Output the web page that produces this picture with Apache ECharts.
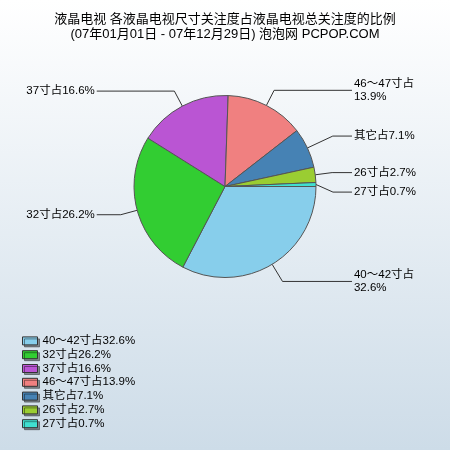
<!DOCTYPE html>
<html>
<head>
<meta charset="utf-8">
<script src="https://cdn.jsdelivr.net/npm/echarts@6/dist/echarts.min.js"></script>
<style>html,body{margin:0;padding:0;}#c{width:450px;height:450px;}</style>
</head>
<body>
<div id="c"></div>
<script>
const titleLines = ['液晶电视 各液晶电视尺寸关注度占液晶电视总关注度的比例', '(07年01月01日 - 07年12月29日) 泡泡网 PCPOP.COM'];
const categories = ['40～42寸', '32寸', '37寸', '46～47寸', '其它', '26寸', '27寸'];
const values = [32.6, 26.2, 16.6, 13.9, 7.1, 2.7, 0.7];
const colors = ['#87CEEB', '#32CD32', '#BA55D3', '#F08080', '#4682B4', '#9ACD32', '#40E0D0'];
const twoLineLabels = ['40～42寸', '46～47寸'];
const lineLen1 = [20, 17, 17, 17, 28, 17, 17];
const lineLen2 = [19, 24, 19, 19, 19, 19, 19];

const font = '"Liberation Sans", Arial, "Noto Sans CJK SC", sans-serif';
const chart = echarts.init(document.getElementById('c'));
const data = categories.map((c, i) => ({
  name: c, value: values[i],
  itemStyle: { color: colors[i] },
  labelLine: { length: lineLen1[i], length2: lineLen2[i] }
}));

chart.setOption({
  backgroundColor: {
    type: 'linear', x: 0, y: 0, x2: 0, y2: 1,
    colorStops: [{ offset: 0, color: '#ffffff' }, { offset: 1, color: '#cddce8' }]
  },
  color: colors,
  title: {
    text: titleLines.join('\n'),
    left: 'center',
    top: 12,
    padding: 0,
    textStyle: { fontSize: 13, fontWeight: 'normal', color: '#000', fontFamily: font, lineHeight: 15 }
  },
  legend: {
    orient: 'vertical',
    left: 22,
    top: 334,
    padding: 0,
    itemWidth: 15,
    itemHeight: 8,
    itemGap: 0,
    icon: 'rect',
    itemStyle: { borderColor: '#333', borderWidth: 1, shadowColor: 'rgba(0,0,0,0.4)', shadowOffsetX: 2, shadowOffsetY: 2, shadowBlur: 0 },
    textStyle: { fontSize: 11.5, color: '#000', fontFamily: font, lineHeight: 13.8 },
    formatter: function (name) {
      const i = categories.indexOf(name);
      return name + '占' + values[i] + '%';
    },
    data: categories
  },
  series: [{
    type: 'pie',
    center: [225, 186.5],
    radius: 91,
    startAngle: 0,
    clockwise: true,
    avoidLabelOverlap: true,
    itemStyle: { borderColor: '#555', borderWidth: 1 },
    emphasis: { disabled: true },
    label: {
      show: true,
      fontSize: 11.5,
      color: '#000',
      fontFamily: font,
      lineHeight: 13.5,
      padding: [2, 0, 2, 0],
      alignTo: 'labelLine',
      distanceToLabelLine: 2,
      formatter: function (p) {
        const sep = twoLineLabels.indexOf(p.name) >= 0 ? '占\n' : '占';
        return p.name + sep + p.value + '%';
      }
    },
    labelLine: { show: true, lineStyle: { color: '#333', width: 1 } },
    data: data
  }]
});
</script>
</body>
</html>
